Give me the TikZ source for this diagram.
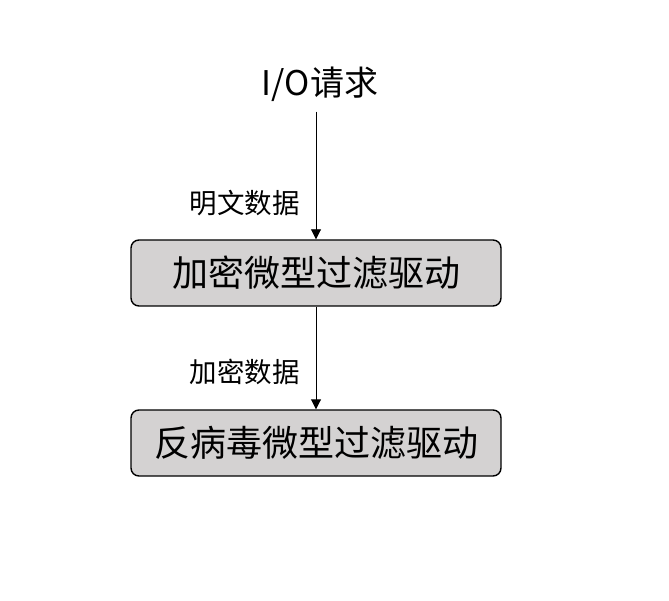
\documentclass[tikz,border=0pt]{standalone}
\usepackage{fontspec}
\setmainfont{Noto Sans CJK SC}
\definecolor{boxgray}{HTML}{D4D2D2}
\usetikzlibrary{arrows.meta,positioning}
\tikzset{
    driver/.style={
        draw=black,
        fill=boxgray,
        rounded corners=8pt,
        line width=1.4pt,
        minimum width=370pt,
        minimum height=66pt,
        inner sep=0pt,
        align=center,
        font=\fontsize{36}{40}\selectfont
    },
    datalabel/.style={
        anchor=east,
        inner sep=0pt,
        font=\fontsize{27.5}{30}\selectfont
    },
    request/.style={
        inner sep=0pt,
        font=\fontsize{34}{38}\selectfont
    },
    flowarrow/.style={
        -{Triangle[length=10pt,width=10pt]},
        draw=black,
        line width=0.9pt
    }
}

\begin{document}
\begin{tikzpicture}[x=1pt,y=-1pt]
        \useasboundingbox (0,0) rectangle (669,601);
        \node[request] (io) at (320,84) {I/O请求};
        \node[driver] (encrypt) at (316,273) {加密微型过滤驱动};
        \node[driver] (antivirus) at (316,443) {反病毒微型过滤驱动};
        \node[datalabel] (plain) at (300,203) {明文数据};
        \node[datalabel] (cipher) at (300,372) {加密数据};

        \draw[flowarrow,shorten <=10pt] (io.south -| encrypt.north) -- (encrypt.north);
        \draw[flowarrow] (encrypt.south) -- (antivirus.north);
    \end{tikzpicture}
\end{document}
